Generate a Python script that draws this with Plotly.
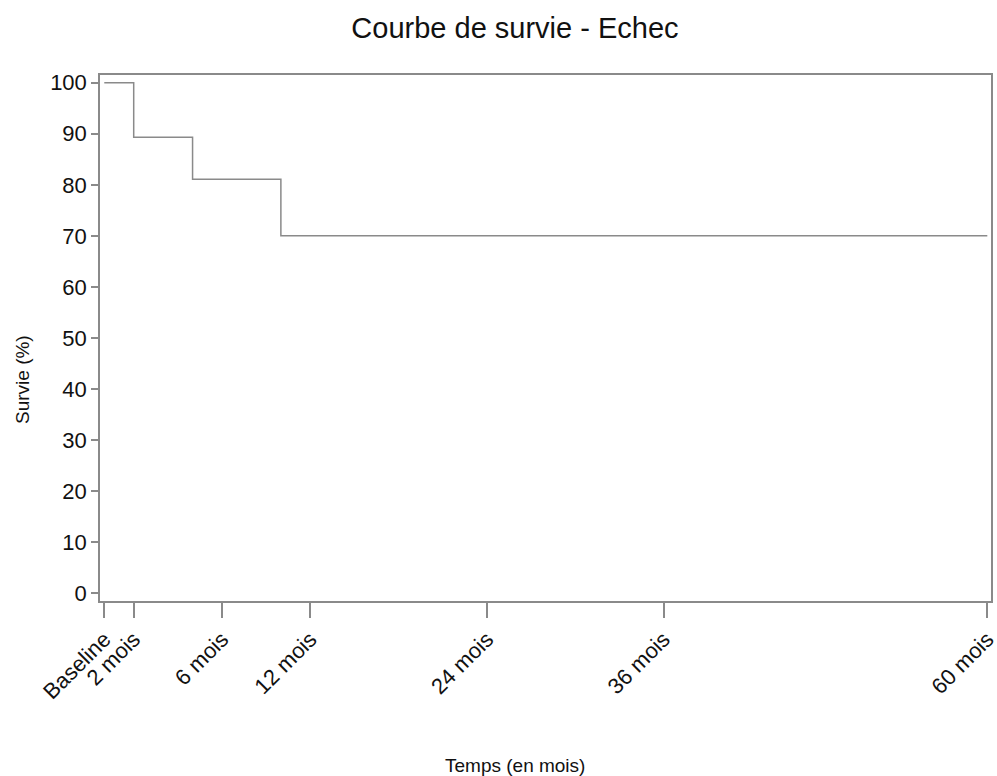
import plotly.graph_objects as go

# Data
times = [0, 2, 6, 12, 60]
survival = [100, 89.3, 81.1, 70, 70]
tick_positions = [0, 2, 8, 14, 26, 38, 60]
tick_labels = ["Baseline", "2 mois", "6 mois", "12 mois", "24 mois", "36 mois", "60 mois"]
y_ticks = [0, 10, 20, 30, 40, 50, 60, 70, 80, 90, 100]

FONT = "Liberation Sans, Arial, sans-serif"
GRAY = "#8a8a8a"

fig = go.Figure()
fig.add_trace(go.Scatter(
    x=times, y=survival, mode="lines", line_shape="hv",
    line=dict(color=GRAY, width=1.5), showlegend=False, hoverinfo="skip"))

fig.update_layout(
    width=997, height=776,
    margin=dict(l=100, r=6, t=75, b=175),
    paper_bgcolor="white", plot_bgcolor="white",
    font=dict(family=FONT, color="#111111"),
    title=dict(text="Courbe de survie - Echec", x=0.5165, xanchor="center",
               y=1 - 28 / 776, yanchor="middle",
               font=dict(size=29, family=FONT, color="#111111")),
    xaxis=dict(range=[-0.29, 60.25], tickmode="array", tickvals=tick_positions,
               ticktext=tick_labels, tickangle=-45, ticks="outside", ticklen=15,
               tickwidth=1.5, tickcolor=GRAY, showgrid=False, zeroline=False,
               showline=True, linecolor=GRAY, linewidth=1.5, mirror=True,
               automargin=False, ticklabeloverflow="allow",
               tickfont=dict(size=22, family=FONT, color="#111111")),
    yaxis=dict(range=[-1.5, 101.5], tickmode="array", tickvals=y_ticks,
               ticks="outside", ticklen=7, tickwidth=1.5, tickcolor=GRAY,
               showgrid=False, zeroline=False, showline=True, linecolor=GRAY,
               linewidth=1.5, mirror=True, automargin=False,
               tickfont=dict(size=22, family=FONT, color="#111111")),
    annotations=[
        dict(text="Temps (en mois)", xref="paper", yref="paper",
             x=(515 - 100) / 891, y=-(765 - 601) / 526,
             xanchor="center", yanchor="middle", showarrow=False,
             font=dict(size=19, family=FONT, color="#111111")),
        dict(text="Survie (%)", xref="paper", yref="paper",
             x=-(100 - 22) / 891, y=(601 - 380) / 526, textangle=-90,
             xanchor="center", yanchor="middle", showarrow=False,
             font=dict(size=19, family=FONT, color="#111111")),
    ],
)

fig.write_html("out.html", config={"displayModeBar": False},
               post_script="document.body.style.margin='0';")
